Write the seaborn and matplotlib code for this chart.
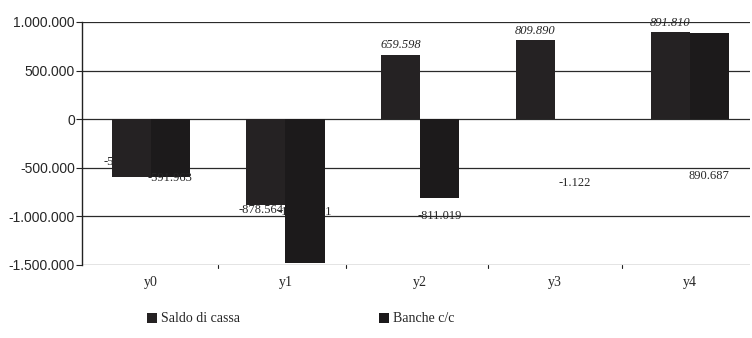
import pandas as pd
import matplotlib
matplotlib.use("Agg")
import matplotlib.pyplot as plt
import seaborn as sns

# data
anni = ["y0", "y1", "y2", "y3", "y4"]
saldo_cassa = [-590841, -878564, 659598, 809890, 891810]
banche_cc = [-591963, -1478461, -811019, -1122, 890687]
serie = ["Saldo di cassa", "Banche c/c"]


def fmt(v):
    # italian thousands separator
    return f"{v:,}".replace(",", ".")


df = pd.DataFrame({
    "anno": anni * 2,
    "valore": saldo_cassa + banche_cc,
    "serie": [serie[0]] * len(anni) + [serie[1]] * len(anni),
})

sns.set_style("white")
plt.rcParams["font.family"] = ["Liberation Sans", "DejaVu Sans"]
serif = ["Liberation Serif", "DejaVu Serif"]

fig = plt.figure(figsize=(7.52, 3.38), dpi=100)
ax = fig.add_axes([0.109, 0.216, 0.889, 0.719])

sns.barplot(data=df, x="anno", y="valore", hue="serie", hue_order=serie,
            palette=["#252223", "#1c1a1b"], width=0.58, saturation=1,
            edgecolor="none", ax=ax, zorder=3)

ax.set_ylim(-1500000, 1000000)
ax.set_xlim(-0.51, 4.45)
ticks = list(range(-1500000, 1000001, 500000))
ax.set_yticks(ticks)
ax.set_yticklabels([fmt(t) for t in ticks], fontsize=10)
ax.tick_params(axis="x", labelsize=10, length=0, pad=8)
ax.tick_params(axis="y", length=4, width=0.8, color="#222222", pad=1, left=True)
ax.set_xlabel("")
ax.set_ylabel("")
for lab in ax.get_xticklabels():
    lab.set_family(serif)

# horizontal lines at each tick
ax.yaxis.grid(True, color="#2a2a2a", linewidth=0.9)
ax.set_axisbelow(True)
for s in ["top", "right", "bottom"]:
    ax.spines[s].set_visible(False)
ax.spines["left"].set_color("#222222")
ax.spines["left"].set_linewidth(1.0)

# small tick marks between categories on the bottom line
for b in [0.5, 1.45, 2.5, 3.5]:
    ax.plot([b, b], [-1500000, -1530000], color="#222222", lw=0.8, clip_on=False)

# value labels (the scan has some of them half hidden behind the bars)
saldo_bars = ax.containers[0]
banche_bars = ax.containers[1]
saldo_neg_y = [-440000, -930000]
for i, (rect, v) in enumerate(zip(saldo_bars, saldo_cassa)):
    x = rect.get_x() + rect.get_width() / 2
    if v > 0:
        ax.text(x, v + 40000, fmt(v), ha="center", va="bottom", fontsize=9,
                style="italic", family=serif, zorder=4)
    else:
        ax.text(x - 0.04, saldo_neg_y[i], fmt(v), ha="center", va="center",
                fontsize=9, family=serif, zorder=2)

banche_label_y = [-600000, -950000, -1000000, -660000, -580000]
for rect, v, ly in zip(banche_bars, banche_cc, banche_label_y):
    x = rect.get_x() + rect.get_width() / 2
    ax.text(x, ly, fmt(v), ha="center", va="center", fontsize=9,
            family=serif, zorder=4 if v > -1000000 else 2)

handles, labels = ax.get_legend_handles_labels()
ax.get_legend().remove()
fig.legend(handles, labels, loc="lower center", bbox_to_anchor=(0.4, 0.0),
           ncol=2, frameon=False, columnspacing=10, handlelength=0.7,
           handleheight=0.7, handletextpad=0.3,
           prop={"family": serif, "size": 10})

fig.savefig("out.png", dpi=100)
